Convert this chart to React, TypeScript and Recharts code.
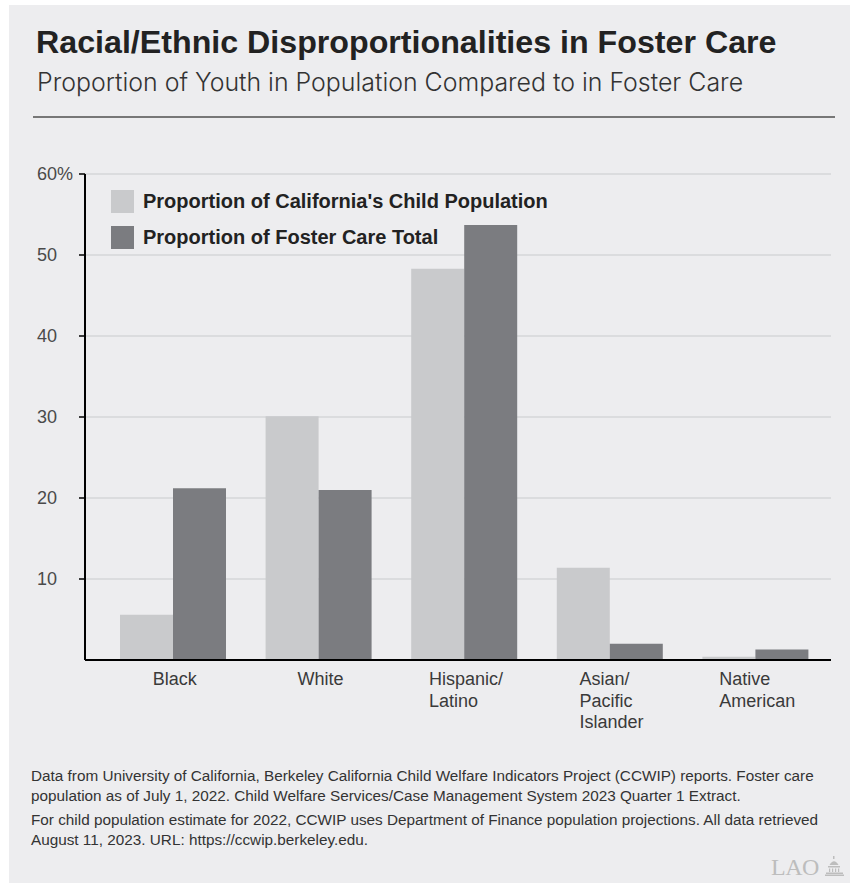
import React from 'react';
import { BarChart, Bar, XAxis, YAxis, CartesianGrid } from 'recharts';

// Share of youth (%) by race/ethnicity
const categories = ['Black', 'White', 'Hispanic/\nLatino', 'Asian/\nPacific\nIslander', 'Native\nAmerican'];
const childPopulationShare = [5.6, 30.1, 48.3, 11.4, 0.4];
const fosterCareShare = [21.2, 21.0, 53.7, 2.0, 1.3];
const yTicks = [10, 20, 30, 40, 50, 60];
const seriesNames = ["Proportion of California's Child Population", 'Proportion of Foster Care Total'];

const data = categories.map((name, i) => ({
  name,
  child: childPopulationShare[i],
  foster: fosterCareShare[i],
}));

const LIGHT = '#C9CACC';
const DARK = '#7B7C80';
const PANEL = '#EDEDEF';
const SANS = "'Liberation Sans', Arial, Helvetica, sans-serif";
const DISPLAY = "Inter, 'Liberation Sans', Arial, sans-serif";

let measureCtx: CanvasRenderingContext2D | null = null;
function textWidth(text: string, font: string): number {
  if (!measureCtx) {
    const c = document.createElement('canvas');
    measureCtx = c.getContext('2d');
  }
  if (!measureCtx) return text.length * 9;
  measureCtx.font = font;
  return measureCtx.measureText(text).width;
}

function CategoryTick(props: any) {
  const { x, y, payload } = props;
  const lines = String(payload.value).split('\n');
  const font = `18px ${SANS}`;
  const w = Math.max(...lines.map((l) => textWidth(l, font)));
  const left = x - w / 2 + 2;
  return (
    <text x={left} y={y} fill="#3a3a3a" fontSize={18} fontFamily={SANS} textAnchor="start">
      {lines.map((l, i) => (
        <tspan key={i} x={left} y={y + 17 + i * 21.5}>
          {l}
        </tspan>
      ))}
    </text>
  );
}

function PercentTick(props: any) {
  const { x, y, payload } = props;
  const numX = x - 20;
  const isTop = payload.value === yTicks[yTicks.length - 1];
  return (
    <g>
      <text x={numX} y={y} dy="0.35em" textAnchor="end" fill="#4a4a4a" fontSize={18} fontFamily={SANS}>
        {payload.value}
      </text>
      {isTop && (
        <text x={numX} y={y} dy="0.35em" textAnchor="start" fill="#4a4a4a" fontSize={18} fontFamily={SANS}>
          %
        </text>
      )}
    </g>
  );
}

const footnotes = [
  [
    'Data from University of California, Berkeley California Child Welfare Indicators Project (CCWIP) reports. Foster care',
    'population as of July 1, 2022. Child Welfare Services/Case Management System 2023 Quarter 1 Extract.',
  ],
  [
    'For child population estimate for 2022, CCWIP uses Department of Finance population projections. All data retrieved',
    'August 11, 2023. URL: https://ccwip.berkeley.edu.',
  ],
];

export default function App() {
  const swatches = [LIGHT, DARK];
  return (
    <div style={{ position: 'absolute', left: 0, top: 0, width: 850, height: 886, background: '#fff', overflow: 'hidden' }}>
      <div style={{ position: 'absolute', left: 9, top: 5, width: 841, height: 878, background: PANEL }} />

      <svg width={850} height={886} style={{ position: 'absolute', left: 0, top: 0 }}>
        <text x={36} y={53} fontFamily={SANS} fontWeight={700} fontSize={32.2} fill="#222">
          Racial/Ethnic Disproportionalities in Foster Care
        </text>
        <text x={37} y={91} fontFamily={DISPLAY} fontWeight={300} fontSize={24.9} fill="#333">
          Proportion of Youth in Population Compared to in Foster Care
        </text>
        <line x1={33} x2={835} y1={117} y2={117} stroke="#777" strokeWidth={2} />

        {footnotes.map((para, pi) =>
          para.map((line, li) => (
            <text
              key={`${pi}-${li}`}
              x={31}
              y={781 + pi * 44 + li * 20}
              fontFamily={SANS}
              fontSize={15.3}
              fill="#333"
            >
              {line}
            </text>
          ))
        )}

        {/* LAO mark */}
        <g fill="#BDBDBD" stroke="none">
          <text x={771} y={875} fontFamily="'Liberation Serif', 'DejaVu Serif', serif" fontSize={24} letterSpacing={-0.5}>
            LAO
          </text>
          <g transform="translate(826,856)">
            <rect x={7} y={0} width={1.5} height={3} />
            <path d="M3.5 9 Q8 1.5 12.5 9 Z" />
            <rect x={2} y={10} width={12} height={1.5} />
            <rect x={3} y={12.5} width={1.2} height={3.5} />
            <rect x={6} y={12.5} width={1.2} height={3.5} />
            <rect x={9} y={12.5} width={1.2} height={3.5} />
            <rect x={12} y={12.5} width={1.2} height={3.5} />
            <rect x={0} y={16.5} width={17} height={1.5} />
            <rect x={-1} y={18.5} width={19} height={1.5} />
          </g>
        </g>
      </svg>

      <div style={{ position: 'absolute', left: 0, top: 0 }}>
        <BarChart
          width={850}
          height={886}
          data={data}
          margin={{ top: 174, right: 19, bottom: 0, left: 0 }}
          barSize={53}
          barGap={0}
        >
          <CartesianGrid vertical={false} stroke="#D5D6D8" strokeWidth={1.5} />
          <XAxis
            dataKey="name"
            interval={0}
            height={226}
            padding={{ left: 15, right: 3 }}
            tickLine={false}
            axisLine={{ stroke: '#000', strokeWidth: 2 }}
            tick={<CategoryTick />}
          />
          <YAxis
            type="number"
            domain={[0, 60]}
            ticks={yTicks}
            interval={0}
            width={85}
            tickSize={6}
            tickLine={{ stroke: '#000', strokeWidth: 1.5 }}
            axisLine={{ stroke: '#000', strokeWidth: 2 }}
            tick={<PercentTick />}
          />
          <Bar dataKey="child" name={seriesNames[0]} fill={LIGHT} isAnimationActive={false} />
          <Bar dataKey="foster" name={seriesNames[1]} fill={DARK} isAnimationActive={false} />
        </BarChart>
      </div>

      {/* legend */}
      <div style={{ position: 'absolute', left: 111, top: 190 }}>
        {seriesNames.map((n, i) => (
          <div key={n} style={{ position: 'absolute', left: 0, top: i * 36, width: 500, height: 23 }}>
            <div style={{ position: 'absolute', left: 0, top: 0, width: 23, height: 23, background: swatches[i] }} />
            <div
              style={{
                position: 'absolute',
                left: 32,
                top: 0,
                fontFamily: SANS,
                fontWeight: 700,
                fontSize: 20,
                lineHeight: '23px',
                color: '#222',
                whiteSpace: 'nowrap',
              }}
            >
              {n}
            </div>
          </div>
        ))}
      </div>
    </div>
  );
}
